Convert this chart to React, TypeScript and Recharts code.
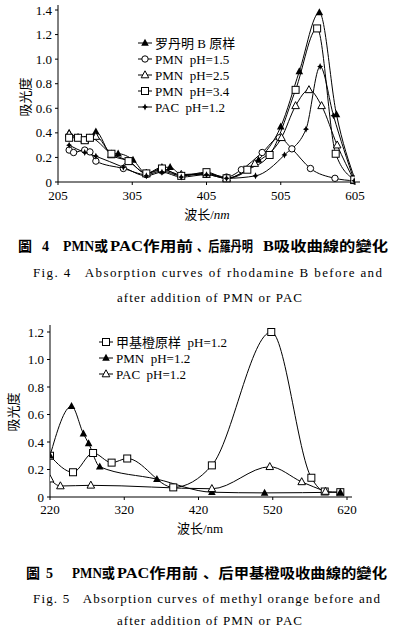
import React from "react";
import { LineChart, Line, XAxis, YAxis } from "recharts";

// ---------- Data: Fig. 4 (rhodamine B) ----------
const fig4Ticks = [205, 305, 405, 505, 605];
const fig4YTicks = [0, 0.2, 0.4, 0.6, 0.8, 1.0, 1.2, 1.4];
const rhodamineRaw: number[][] = [
  [220, 0.40], [241, 0.34], [248, 0.36], [256, 0.41], [277, 0.23], [286, 0.23], [306, 0.18],
  [324, 0.07], [345, 0.12], [356, 0.12], [371, 0.06], [405, 0.07], [432, 0.03], [475, 0.18],
  [505, 0.45], [530, 0.90], [557, 1.38], [580, 0.55], [605, 0.02],
];
const pmn15Raw: number[][] = [
  [220, 0.26], [226, 0.24], [241, 0.26], [248, 0.245], [256, 0.17], [293, 0.11], [324, 0.06],
  [345, 0.09], [371, 0.05], [405, 0.07], [432, 0.04], [452, 0.10], [480, 0.24], [503, 0.36],
  [520, 0.27], [545, 0.11], [578, 0.03], [604, 0.01],
];
const pmn25Raw: number[][] = [
  [220, 0.39], [232, 0.36], [241, 0.34], [256, 0.37], [277, 0.22], [300, 0.17], [324, 0.07],
  [345, 0.10], [371, 0.06], [405, 0.06], [432, 0.03], [470, 0.15], [506, 0.36], [525, 0.62],
  [543, 0.75], [560, 0.62], [581, 0.30], [604, 0.01],
];
const pmn34Raw: number[][] = [
  [220, 0.36], [232, 0.36], [241, 0.34], [248, 0.36], [277, 0.23], [300, 0.17], [324, 0.07],
  [345, 0.11], [371, 0.05], [405, 0.08], [432, 0.03], [460, 0.10], [490, 0.22], [525, 0.75],
  [554, 1.25], [579, 0.23], [604, 0.02],
];
const pac12Raw: number[][] = [
  [220, 0.30], [241, 0.24], [256, 0.21], [293, 0.12], [324, 0.05], [345, 0.08], [371, 0.04],
  [405, 0.06], [432, 0.03], [471, 0.05], [510, 0.22], [539, 0.43], [558, 0.94], [576, 0.54],
  [604, 0.01],
];

// ---------- Data: Fig. 5 (methyl orange) ----------
const fig5Ticks = [220, 320, 420, 520, 620];
const fig5YTicks = [0, 0.2, 0.4, 0.6, 0.8, 1.0, 1.2];
const methylRaw: number[][] = [
  [220, 0.30], [251, 0.18], [278, 0.32], [303, 0.25], [324, 0.28], [386, 0.07], [438, 0.23],
  [518, 1.20], [572, 0.14], [590, 0.04], [611, 0.035],
];
const pmnMoRaw: number[][] = [
  [220, 0.30], [249, 0.66], [265, 0.46], [272, 0.39], [287, 0.22], [364, 0.13], [438, 0.035],
  [509, 0.03], [611, 0.035],
];
const pacMoRaw: number[][] = [
  [220, 0.13], [234, 0.08], [275, 0.085], [438, 0.06], [516, 0.22], [559, 0.11], [591, 0.04],
];

const toPts = (raw: number[][]) => raw.map(([x, y]) => ({ x, y }));

const SERIF = "'Liberation Serif', 'Noto Sans CJK SC', serif";
const CJK = "'Liberation Serif', 'Noto Sans CJK SC', serif";

type Shape = "triF" | "triO" | "circle" | "square" | "star";

function marker(shape: Shape, cx: number, cy: number, key?: string) {
  switch (shape) {
    case "triF":
      return <polygon key={key} points={`${cx},${cy - 4.2} ${cx - 3.8},${cy + 2.8} ${cx + 3.8},${cy + 2.8}`} fill="#000" />;
    case "triO":
      return <polygon key={key} points={`${cx},${cy - 4.2} ${cx - 3.8},${cy + 2.8} ${cx + 3.8},${cy + 2.8}`} fill="#fff" stroke="#000" strokeWidth={1} />;
    case "circle":
      return <circle key={key} cx={cx} cy={cy} r={3.2} fill="#fff" stroke="#000" strokeWidth={1} />;
    case "square":
      return <rect key={key} x={cx - 3.5} y={cy - 3.5} width={7} height={7} fill="#fff" stroke="#000" strokeWidth={1} />;
    case "star":
    default:
      return (
        <polygon
          key={key}
          points={`${cx},${cy - 3.5} ${cx + 1.1},${cy - 1.1} ${cx + 3},${cy} ${cx + 1.1},${cy + 1.1} ${cx},${cy + 3.5} ${cx - 1.1},${cy + 1.1} ${cx - 3},${cy} ${cx - 1.1},${cy - 1.1}`}
          fill="#000"
        />
      );
  }
}

const dotFn = (shape: Shape, name: string) => (props: any) => {
  const { cx, cy, index } = props;
  if (cx == null || cy == null) return <g key={`${name}-${index}`} />;
  return marker(shape, cx, cy, `${name}-${index}`);
};

const fmt = (v: number) => (v === 0 ? "0" : v.toFixed(1));
const tickStyle = { fontFamily: SERIF, fontSize: 13, fill: "#000" };

function LegendRows({ x, y, gap, items }: { x: number; y: number; gap: number; items: { shape: Shape; label: string }[] }) {
  return (
    <g>
      {items.map((it, i) => {
        const cy = y + i * gap;
        return (
          <g key={i}>
            <line x1={x} x2={x + 14} y1={cy} y2={cy} stroke="#000" strokeWidth={1} />
            {marker(it.shape, x + 7, cy)}
            <text x={x + 17} y={cy} dominantBaseline="central" fontFamily={CJK} fontSize={13} fill="#000" style={{ whiteSpace: "pre" }}>
              {it.label}
            </text>
          </g>
        );
      })}
    </g>
  );
}

export default function App() {
  return (
    <div style={{ position: "absolute", left: 0, top: 0, width: 398, height: 628, background: "#fff", overflow: "hidden" }}>
      {/* Fig. 4 chart */}
      <div style={{ position: "absolute", left: 0, top: 0 }}>
        <LineChart width={398} height={212} margin={{ top: 5, right: 38, bottom: 0, left: 0 }}>
          <XAxis
            dataKey="x"
            type="number"
            domain={[205, 605]}
            ticks={fig4Ticks}
            allowDataOverflow
            padding={{ left: 0, right: 5 }}
            height={30}
            tickSize={3}
            tickMargin={6}
            tick={tickStyle}
            stroke="#000"
          />
          <YAxis
            type="number"
            domain={[0, 1.4]}
            ticks={fig4YTicks}
            tickFormatter={fmt}
            width={58}
            padding={{ top: 5, bottom: 0 }}
            tickSize={3}
            tickMargin={3}
            tick={tickStyle}
            stroke="#000"
          />
          <Line data={toPts(rhodamineRaw)} dataKey="y" type="monotone" stroke="#000" strokeWidth={1} dot={dotFn("triF", "rh")} isAnimationActive={false} />
          <Line data={toPts(pmn15Raw)} dataKey="y" type="monotone" stroke="#000" strokeWidth={1} dot={dotFn("circle", "p15")} isAnimationActive={false} />
          <Line data={toPts(pmn25Raw)} dataKey="y" type="monotone" stroke="#000" strokeWidth={1} dot={dotFn("triO", "p25")} isAnimationActive={false} />
          <Line data={toPts(pmn34Raw)} dataKey="y" type="monotone" stroke="#000" strokeWidth={1} dot={dotFn("square", "p34")} isAnimationActive={false} />
          <Line data={toPts(pac12Raw)} dataKey="y" type="monotone" stroke="#000" strokeWidth={1} dot={dotFn("star", "pac")} isAnimationActive={false} />
        </LineChart>
      </div>

      {/* Fig. 5 chart */}
      <div style={{ position: "absolute", left: 0, top: 320 }}>
        <LineChart width={398} height={207} margin={{ top: 5, right: 46, bottom: 0, left: 0 }}>
          <XAxis
            dataKey="x"
            type="number"
            domain={[220, 620]}
            ticks={fig5Ticks}
            allowDataOverflow
            padding={{ left: 0, right: 5 }}
            height={30}
            tickSize={3}
            tickMargin={5}
            tick={tickStyle}
            stroke="#000"
          />
          <YAxis
            type="number"
            domain={[0, 1.2]}
            ticks={fig5YTicks}
            tickFormatter={fmt}
            width={50}
            padding={{ top: 7, bottom: 0 }}
            tickSize={3}
            tickMargin={3}
            tick={tickStyle}
            stroke="#000"
          />
          <Line data={toPts(methylRaw)} dataKey="y" type="monotone" stroke="#000" strokeWidth={1} dot={dotFn("square", "mo")} isAnimationActive={false} />
          <Line data={toPts(pmnMoRaw)} dataKey="y" type="monotone" stroke="#000" strokeWidth={1} dot={dotFn("triF", "pm")} isAnimationActive={false} />
          <Line data={toPts(pacMoRaw)} dataKey="y" type="monotone" stroke="#000" strokeWidth={1} dot={dotFn("triO", "pa")} isAnimationActive={false} />
        </LineChart>
      </div>

      {/* Overlay: legends, axis titles, captions */}
      <svg width={398} height={628} style={{ position: "absolute", left: 0, top: 0, pointerEvents: "none" }}>
        <LegendRows
          x={138}
          y={43}
          gap={16}
          items={[
            { shape: "triF", label: "罗丹明 B 原样" },
            { shape: "circle", label: "PMN  pH=1.5" },
            { shape: "triO", label: "PMN  pH=2.5" },
            { shape: "square", label: "PMN  pH=3.4" },
            { shape: "star", label: "PAC  pH=1.2" },
          ]}
        />
        <LegendRows
          x={99}
          y={342}
          gap={16}
          items={[
            { shape: "square", label: "甲基橙原样  pH=1.2" },
            { shape: "triF", label: "PMN  pH=1.2" },
            { shape: "triO", label: "PAC  pH=1.2" },
          ]}
        />

        {/* axis titles */}
        <text x={25} y={97} transform="rotate(-90 25 97)" textAnchor="middle" dominantBaseline="central" fontFamily={CJK} fontSize={13} fill="#000">吸光度</text>
        <text x={207} y={214} textAnchor="middle" dominantBaseline="central" fontFamily={CJK} fontSize={13} fill="#000">
          波长/<tspan fontStyle="italic">nm</tspan>
        </text>
        <text x={13} y={412} transform="rotate(-90 13 412)" textAnchor="middle" dominantBaseline="central" fontFamily={CJK} fontSize={13} fill="#000">吸光度</text>
        <text x={200} y={528} textAnchor="middle" dominantBaseline="central" fontFamily={CJK} fontSize={13} fill="#000">波长/nm</text>

        {/* Fig. 4 caption */}
        <g fontFamily={CJK} fontSize={14} fontWeight="bold" fill="#000">
          <text x={18} y={246} dominantBaseline="central">圖</text>
          <text x={42} y={246} dominantBaseline="central">4</text>
          <text x={63} y={246} dominantBaseline="central" textLength={45} lengthAdjust="spacingAndGlyphs">PMN或</text>
          <text x={110} y={246} dominantBaseline="central" textLength={83} lengthAdjust="spacingAndGlyphs">PAC作用前</text>
          <text x={197} y={246} dominantBaseline="central" textLength={56} lengthAdjust="spacingAndGlyphs">、后羅丹明</text>
          <text x={263} y={246} dominantBaseline="central" textLength={125} lengthAdjust="spacingAndGlyphs">B吸收曲線的變化</text>
        </g>
        <text x={33} y={272} dominantBaseline="central" fontFamily={SERIF} fontSize={13} fill="#000" textLength={349} lengthAdjust="spacing" style={{ whiteSpace: "pre" }}>
          Fig. 4   Absorption curves of rhodamine B before and
        </text>
        <text x={117} y={297} dominantBaseline="central" fontFamily={SERIF} fontSize={13} fill="#000" textLength={185} lengthAdjust="spacing">
          after addition of PMN or PAC
        </text>

        {/* Fig. 5 caption */}
        <g fontFamily={CJK} fontSize={14} fontWeight="bold" fill="#000">
          <text x={26} y={573} dominantBaseline="central">圖</text>
          <text x={46} y={573} dominantBaseline="central">5</text>
          <text x={72} y={573} dominantBaseline="central" textLength={43} lengthAdjust="spacingAndGlyphs">PMN或</text>
          <text x={117} y={573} dominantBaseline="central" textLength={81} lengthAdjust="spacingAndGlyphs">PAC作用前</text>
          <text x={203} y={573} dominantBaseline="central" textLength={184} lengthAdjust="spacingAndGlyphs">、后甲基橙吸收曲線的變化</text>
        </g>
        <text x={33} y={598} dominantBaseline="central" fontFamily={SERIF} fontSize={13} fill="#000" textLength={347} lengthAdjust="spacing" style={{ whiteSpace: "pre" }}>
          Fig. 5   Absorption curves of methyl orange before and
        </text>
        <text x={117} y={620} dominantBaseline="central" fontFamily={SERIF} fontSize={13} fill="#000" textLength={185} lengthAdjust="spacing">
          after addition of PMN or PAC
        </text>
      </svg>
    </div>
  );
}
